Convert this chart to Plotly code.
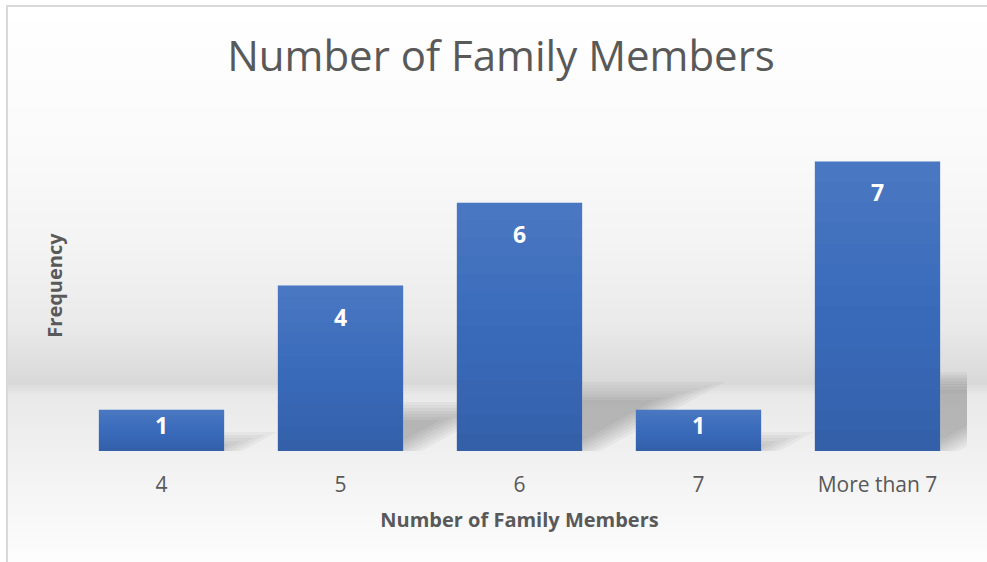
import math
import plotly.graph_objects as go

categories = ["4", "5", "6", "7", "More than 7"]
frequency = [1, 4, 6, 1, 7]

W, H = 987, 562
L, R, T, B = 72, 20, 120, 111  # plot area x 72..967, y 120..451
Y_MAX = 8
BAR_W = 0.7

fig = go.Figure()
fig.add_trace(go.Bar(
    x=categories, y=frequency,
    marker=dict(color="#3a6bbc", line=dict(width=0)),
    width=BAR_W,
    hoverinfo="skip",
))

px_per_x = (W - L - R) / len(categories)
px_per_y = (H - T - B) / Y_MAX

# data labels near the top of each bar (x given as category index)
for i, v in enumerate(frequency):
    bar_px = v * px_per_y
    fig.add_annotation(x=i, y=v, text=f"<b>{v}</b>", showarrow=False,
                       yshift=-31 if bar_px > 80 else -15, yanchor="middle",
                       font=dict(family="Open Sans", size=23, color="white"))

# background gradient (pixel y -> gray level)
stops = [(0, 255), (7, 255), (150, 250), (250, 243), (330, 233), (383, 216),
         (395, 233), (451, 240), (500, 246), (562, 253)]

def gray_at(py):
    for (y0, g0), (y1, g1) in zip(stops, stops[1:]):
        if y0 <= py <= y1:
            t = (py - y0) / (y1 - y0) if y1 > y0 else 0
            return g0 + (g1 - g0) * t
    return 255

def py2p(py):
    return (H - B - py) / (H - T - B)

def px2p(px):
    return (px - L) / (W - L - R)

shapes = []
step = 3
for py in range(7, H, step):
    g = int(round(gray_at(py + step / 2)))
    shapes.append(dict(type="rect", xref="paper", yref="paper", layer="below",
                       x0=px2p(7), x1=px2p(W + 5),
                       y0=py2p(min(py + step, H)), y1=py2p(py),
                       fillcolor=f"rgb({g},{g},{g})", line=dict(width=0)))

# soft perspective shadows to the right of each bar (several translucent layers = blur)
for i, v in enumerate(frequency):
    sh = 10.0 * v          # shadow height in px
    dx = 1.8 * sh          # horizontal reach in px
    ln = math.hypot(dx, sh)
    nx, ny = sh / ln, dx / ln  # outward normal (pixel space, y down)
    x1 = i + BAR_W / 2
    for d in (-9, -6, -3, 0, 3, 6, 9):
        ya = d * ny + sh * d * nx / dx            # diagonal meets bar edge
        yt = -sh - d                              # top edge
        t = (sh + d + d * ny) / sh
        xc = d * nx + dx * t                      # diagonal meets top edge
        if xc <= 0:
            continue
        pts = [(0, ya), (0, yt), (xc, yt)]
        path = "M " + " L ".join(f"{x1 + px / px_per_x},{-py / px_per_y}" for px, py in pts) + " Z"
        shapes.append(dict(type="path", xref="x", yref="y", layer="below", path=path,
                           fillcolor="rgba(0,0,0,0.035)", line=dict(width=0)))

# subtle vertical gradient on each bar
n = 14
for i, v in enumerate(frequency):
    for k in range(n):
        f0, f1 = k / n, (k + 1) / n
        mid = (f0 + f1) / 2  # 0 bottom .. 1 top
        if mid >= 0.5:
            col = f"rgba(255,255,255,{0.09 * (mid - 0.5) * 2:.3f})"
        else:
            col = f"rgba(0,0,0,{0.10 * (0.5 - mid) * 2:.3f})"
        shapes.append(dict(type="rect", xref="x", yref="y", layer="above",
                           x0=i - BAR_W / 2, x1=i + BAR_W / 2, y0=v * f0, y1=v * f1,
                           fillcolor=col, line=dict(width=0)))

# chart border (top and left)
shapes.append(dict(type="line", xref="paper", yref="paper", layer="above",
                   x0=px2p(6), x1=px2p(W + 5), y0=py2p(6), y1=py2p(6),
                   line=dict(color="#d9d9d9", width=2)))
shapes.append(dict(type="line", xref="paper", yref="paper", layer="above",
                   x0=px2p(7), x1=px2p(7), y0=py2p(6), y1=py2p(H + 5),
                   line=dict(color="#d9d9d9", width=2)))

fig.update_layout(
    width=W, height=H,
    margin=dict(l=L, r=R, t=T, b=B),
    paper_bgcolor="white",
    plot_bgcolor="rgba(0,0,0,0)",
    shapes=shapes,
    showlegend=False,
    bargap=0.3,
    title=dict(text="Number of Family Members", x=501 / W, xanchor="center",
               y=1 - 56 / H, yanchor="middle", yref="container",
               font=dict(family="Open Sans", size=42, color="#595959")),
    xaxis=dict(type="category", range=[-0.5, len(categories) - 0.5],
               showgrid=False, showline=False, zeroline=False, ticks="",
               ticklabelstandoff=19,
               tickfont=dict(family="Open Sans", size=21, color="#595959"),
               title=dict(text="<b>Number of Family Members</b>", standoff=15,
                          font=dict(family="Open Sans", size=20, color="#595959"))),
    yaxis=dict(range=[0, Y_MAX], showgrid=False, showline=False, zeroline=False,
               showticklabels=False, ticks="",
               title=dict(text="<b>Frequency</b>", standoff=3,
                          font=dict(family="Open Sans", size=20, color="#595959"))),
)

fig.write_html("out.html", config={"displayModeBar": False},
               post_script="document.body.style.margin='0';document.body.style.overflow='hidden';")
